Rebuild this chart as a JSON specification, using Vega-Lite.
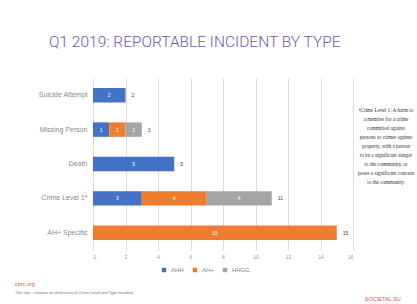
{
  "$schema": "https://vega.github.io/schema/vega-lite/v6.json",
  "padding": {"left": 15, "top": 34, "right": 0, "bottom": 0},
  "background": "white",
  "title": {"text": "Q1 2019: REPORTABLE INCIDENT BY TYPE", "font": "Roboto", "fontSize": 15.5, "fontWeight": 300, "color": "#7457a5", "anchor": "start", "frame": "group", "dx": -44, "offset": 28},
  "datasets": {
    "incidents": [
      {"cat": "Suicide Attempt", "series": "AHH", "o": 1, "v": 2},
      {"cat": "Missing Person", "series": "AHH", "o": 1, "v": 1},
      {"cat": "Missing Person", "series": "AH+", "o": 2, "v": 1},
      {"cat": "Missing Person", "series": "HHGC", "o": 3, "v": 1},
      {"cat": "Death", "series": "AHH", "o": 1, "v": 5},
      {"cat": "Crime Level 1*", "series": "AHH", "o": 1, "v": 3},
      {"cat": "Crime Level 1*", "series": "AH+", "o": 2, "v": 4},
      {"cat": "Crime Level 1*", "series": "HHGC", "o": 3, "v": 4},
      {"cat": "AH+ Specific", "series": "AH+", "o": 2, "v": 15}
    ],
    "note": [
      {"line": 0, "t": "¹Crime Level 1: A harm to"},
      {"line": 1, "t": "a member for a crime"},
      {"line": 2, "t": "committed against"},
      {"line": 3, "t": "persons or crimes against"},
      {"line": 4, "t": "property, with a person"},
      {"line": 5, "t": "to be a significant danger"},
      {"line": 6, "t": "to the community, or"},
      {"line": 7, "t": "poses a significant concern"},
      {"line": 8, "t": "to the community."}
    ],
    "footer": [
      {"t": "SOCIETAL.SU"}
    ]
  },
  "config": {"view": {"stroke": null}, "font": "Liberation Sans"},
  "spacing": 9,
  "resolve": {"legend": {"color": "independent"}},
  "vconcat": [
    {
      "spacing": 4,
      "resolve": {"legend": {"color": "independent"}},
      "hconcat": [
        {
          "width": 260,
          "height": 172,
          "data": {"name": "incidents"},
          "encoding": {
            "y": {"field": "cat", "type": "nominal", "sort": ["Suicide Attempt", "Missing Person", "Death", "Crime Level 1*", "AH+ Specific"],
              "scale": {"paddingInner": 0.58, "paddingOuter": 0.29},
              "axis": {"title": null, "domain": false, "ticks": false, "labelFontSize": 7, "labelColor": "#8a8a8a", "labelPadding": 6, "minExtent": 78, "maxExtent": 78}}
          },
          "layer": [
            {
              "transform": [{"stack": "v", "groupby": ["cat"], "sort": [{"field": "o", "order": "ascending"}], "as": ["x0", "x1"]}],
              "mark": {"type": "bar"},
              "encoding": {
                "x": {"field": "x0", "type": "quantitative", "scale": {"domain": [0, 16], "nice": false},
                  "axis": {"title": null, "values": [0, 2, 4, 6, 8, 10, 12, 14, 16], "labelOverlap": false, "grid": true, "gridColor": "#dcdcdc", "domain": false, "ticks": false, "labelFontSize": 5, "labelColor": "#999999", "labelPadding": 4}},
                "x2": {"field": "x1"},
                "color": {"field": "series", "type": "nominal",
                  "scale": {"domain": ["AHH", "AH+", "HHGC"], "range": ["#4472c4", "#ed7d31", "#a5a5a5"]},
                  "legend": {"title": null, "orient": "none", "legendX": 68, "legendY": 189, "direction": "horizontal", "symbolType": "square", "symbolSize": 20, "labelFontSize": 6, "labelColor": "#7f7f7f", "columnPadding": 8}}
              }
            },
            {
              "transform": [
                {"stack": "v", "groupby": ["cat"], "sort": [{"field": "o", "order": "ascending"}], "as": ["x0", "x1"]},
                {"fold": ["x0", "x1"], "as": ["edge", "xe"]},
                {"aggregate": [{"op": "mean", "field": "xe", "as": "xm"}], "groupby": ["cat", "series", "v"]}
              ],
              "mark": {"type": "text", "color": "white", "fontSize": 5},
              "encoding": {
                "x": {"field": "xm", "type": "quantitative",
                  "axis": {"title": null, "values": [0, 2, 4, 6, 8, 10, 12, 14, 16], "labelOverlap": false, "grid": true, "gridColor": "#dcdcdc", "domain": false, "ticks": false, "labelFontSize": 5, "labelColor": "#999999", "labelPadding": 4}},
                "text": {"field": "v", "type": "quantitative"}
              }
            },
            {
              "transform": [{"aggregate": [{"op": "sum", "field": "v", "as": "total"}], "groupby": ["cat"]}],
              "mark": {"type": "text", "align": "left", "dx": 6, "fontSize": 5, "color": "#404040"},
              "encoding": {
                "x": {"field": "total", "type": "quantitative",
                  "axis": {"title": null, "values": [0, 2, 4, 6, 8, 10, 12, 14, 16], "labelOverlap": false, "grid": true, "gridColor": "#dcdcdc", "domain": false, "ticks": false, "labelFontSize": 5, "labelColor": "#999999", "labelPadding": 4}},
                "text": {"field": "total", "type": "quantitative"}
              }
            }
          ]
        },
        {
          "width": 58,
          "height": 172,
          "data": {"name": "note"},
          "mark": {"type": "text", "font": "Liberation Serif", "fontSize": 5.2, "color": "#333333"},
          "encoding": {
            "y": {"field": "line", "type": "quantitative", "scale": {"domain": [-3.5, 15.6], "reverse": true, "nice": false, "zero": false}, "axis": null},
            "text": {"field": "t", "type": "nominal"}
          }
        }
      ]
    },
    {
      "width": 310, "height": 1,
      "data": {"name": "footer"},
      "mark": {"type": "text", "align": "left", "baseline": "bottom", "dy": -6, "fontSize": 5.5, "color": "#e05050"},
      "encoding": {
        "x": {"datum": 0.877, "type": "quantitative", "scale": {"domain": [0, 1]}, "axis": null},
        "text": {"field": "t", "type": "nominal"}
      },
      "title": {"text": "cbrc.org", "subtitle": "\u00a0\u00a0\u00a0\u00a0\u00a0\u00a0\u00a0\u00a0\u00a0\u00a0\u00a0\u00a0\u00a0\u00a0\u00a0\u00a0\u00a0\u00a0\u00a0\u00a0\u00a0\u00a0\u00a0\u00a0Title text - citations on definitions of Crime Level and Type bundled", "anchor": "start", "dx": -78, "fontSize": 5.5, "fontWeight": "normal", "color": "#e05050", "subtitleFontSize": 4, "subtitleColor": "#777777", "subtitlePadding": 3, "offset": 2}
    }
  ]
}
